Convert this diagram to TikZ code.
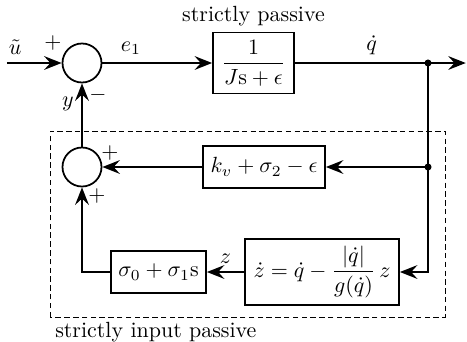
\documentclass[tikz,border=0pt]{standalone}
\usepackage{amsmath}
\usetikzlibrary{arrows.meta}
\begin{document}
\begin{tikzpicture}[>={Stealth[length=2.8mm,width=2.2mm,inset=1mm]}, thick,
  block/.style={draw, rectangle, align=center, minimum height=0.672cm},
  sumnode/.style={draw, circle, minimum size=0.624cm, inner sep=0pt}]
\useasboundingbox (-1.312,-4.448) rectangle (6.16,1.008);
\node[sumnode] (sum1) at (0,0) {};
\node[sumnode] (sum2) at (0,-1.664) {};
\node[block, minimum width=1.296cm, minimum height=0.976cm] (plant) at (2.744,0) {$\dfrac{1}{J\mathrm{s}+\epsilon}$};
\node[above, inner sep=2pt] (sptext) at (plant.north) {strictly passive};
\node[block, minimum width=1.952cm] (kv) at (2.912,-1.664) {$k_v+\sigma_2-\epsilon$};
\node[block, minimum width=2.464cm, minimum height=0.992cm] (zdyn) at (3.84,-3.344) {$\dot z=\dot q-\dfrac{|\dot q|}{g(\dot q)}\,z$};
\node[block, minimum width=1.52cm] (sig) at (1.224,-3.344) {$\sigma_0+\sigma_1\mathrm{s}$};
\coordinate (in) at (-1.2,0);
\coordinate (out) at (6.14,0);
\coordinate (br1) at (5.536,0);
\coordinate (br2) at (5.536,-1.664);
% signs at the summing points
\node (p1) at (-0.464,0.32) {$+$};
\node (m1) at (0.256,-0.512) {$-$};
\node (p2) at (0.448,-1.44) {$+$};
\node (p3) at (0.24,-2.128) {$+$};
% forward path
\draw[->] (in) -- node[above, pos=0.15] (ulab) {$\tilde u$} (sum1);
\draw[->] (sum1) -- node[above, pos=0.26] (elab) {$e_1$} (plant);
\draw[->] (plant) -- node[above, pos=0.45] (qlab) {$\dot q$} (out);
\fill (br1) circle (1.6pt);
\fill (br2) circle (1.6pt);
% feedback path
\draw (br1) -- (br2);
\draw[->] (br2) -- (kv);
\draw[->] (br2) |- (zdyn.east);
\draw[->] (kv) -- (sum2);
\draw[->] (zdyn) -- node[above] (zlab) {$z$} (sig);
\draw[->] (sig) -| (sum2);
\draw[->] (sum2) -- node[left, pos=0.68] (ylab) {$y$} (sum1);
% inner block
\coordinate (dsw) at (-0.512,-4.064);
\coordinate (dne) at (5.808,-1.088);
\draw[thin, dash pattern=on 2.5pt off 1.5pt] (dsw) rectangle (dne);
\node[below right, inner sep=2pt] (siptext) at (dsw) {strictly input passive};
\end{tikzpicture}
\end{document}
